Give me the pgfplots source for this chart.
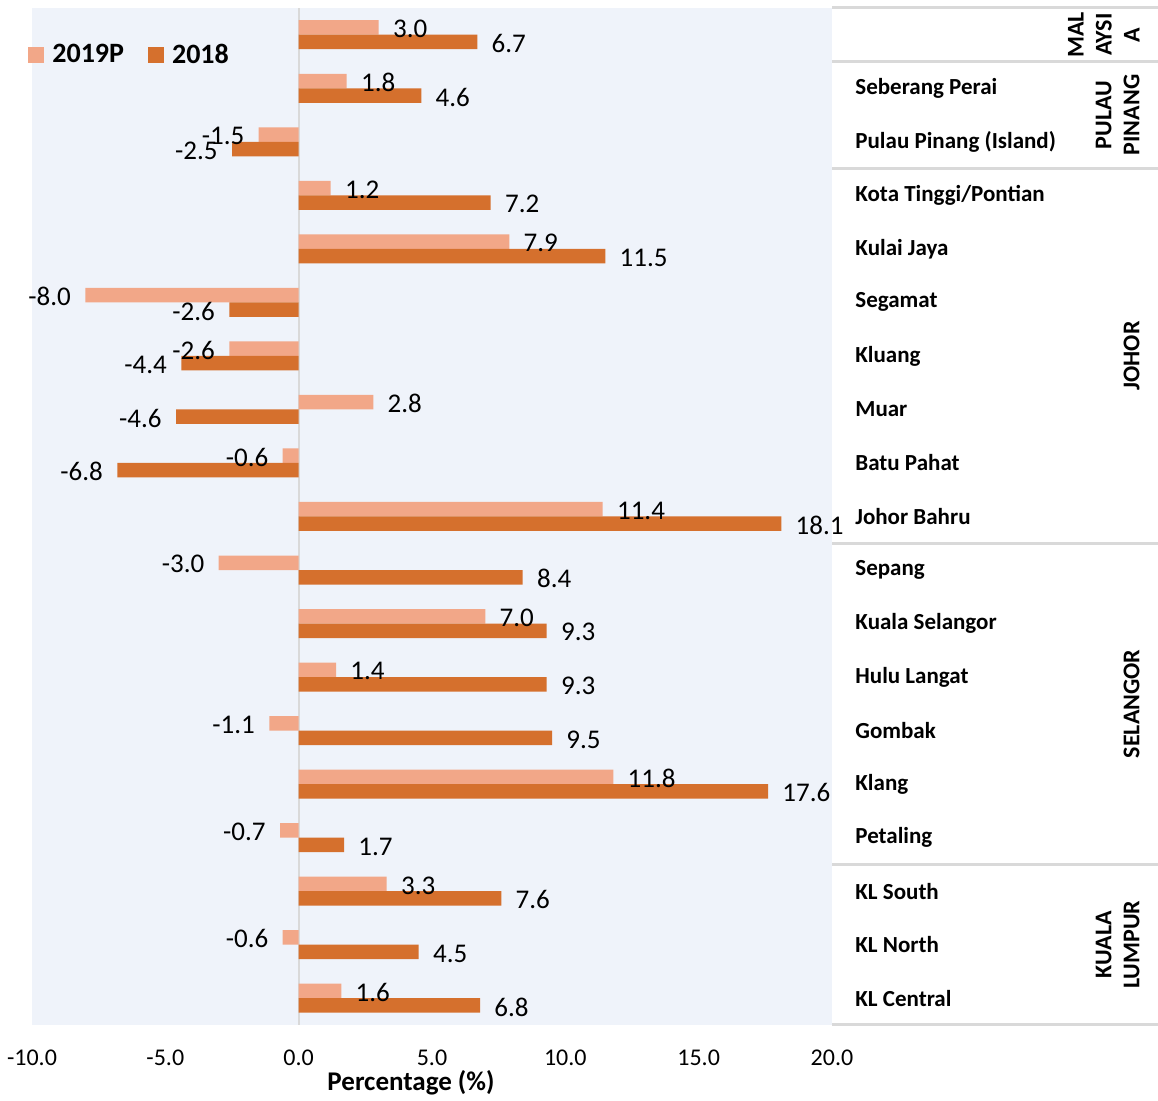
\documentclass[border=0pt]{standalone}
\usepackage{pgfplots}
\pgfplotsset{compat=1.18}
\usepackage{fontspec}
\setmainfont{Carlito}
\definecolor{bg}{RGB}{239,243,250}
\definecolor{c19}{RGB}{242,167,136}
\definecolor{c18}{RGB}{213,112,45}
\definecolor{sep}{RGB}{217,217,217}
\pgfplotsset{
  sqlegend/.style={legend image code/.code={\fill[##1] (0pt,-4pt) rectangle (8pt,4pt);}},
  barlabels/.style={
    nodes near coords={\pgfmathprintnumber[fixed,fixed zerofill,precision=1,assume math mode=true]{\pgfplotspointmeta}},
    nodes near coords align={horizontal},
    every node near coord/.append style={font=\fontsize{13.5}{13.5}\selectfont, text=black, inner xsep=7pt, inner ysep=0pt, yshift=#1},
  },
}
\begin{document}
\begin{tikzpicture}
\path[use as bounding box] (0,0) rectangle (579pt,550.5pt);
\begin{axis}[
  at={(16pt,38pt)}, anchor=south west,
  scale only axis, width=400pt, height=508.5pt,
  xmin=-10, xmax=20, ymin=-0.5, ymax=18.5,
  axis line style={draw=none},
  major tick length=0pt,
  axis background/.style={fill=bg},
  clip=false,
  xtick={-10,-5,...,20},
  xticklabel style={/pgf/number format/.cd, fixed, fixed zerofill, precision=1, assume math mode=true, /tikz/.cd,
    font=\fontsize{12}{12}\selectfont, anchor=center, yshift=-16.5pt},
  ytick={0,...,18},
  yticklabels={KL Central, KL North, KL South, Petaling, Klang, Gombak, Hulu Langat, Kuala Selangor, Sepang, Johor Bahru, Batu Pahat, Muar, Kluang, Segamat, Kulai Jaya, Kota Tinggi/Pontian, Pulau Pinang (Island), Seberang Perai, {}},
  yticklabel pos=right,
  yticklabel style={anchor=west, inner sep=0pt, xshift=11.5pt, font=\bfseries\fontsize{11.5}{11.5}\selectfont},
  bar width=7.25pt,
  legend style={at={(0,1)}, anchor=west, xshift=-2pt, yshift=-23.5pt, draw=none, fill=none, inner sep=0pt,
    font=\bfseries\fontsize{14}{14}\selectfont, legend columns=2,
    nodes={inner xsep=4pt},
    /tikz/every even column/.append style={column sep=8pt}},
  legend cell align=left,
]
\addplot[forget plot, draw=sep, line width=1pt] coordinates {(0,-0.5) (0,18.5)};

% 2019P
\addplot[xbar, bar shift=3.625pt, fill=c19, draw=none, sqlegend, barlabels=2.9pt] coordinates {
  (3.0,18) (1.8,17) (-1.5,16) (1.2,15) (7.9,14) (-8.0,13) (-2.6,12) (2.8,11) (-0.6,10) (11.4,9)
  (-3.0,8) (7.0,7) (1.4,6) (-1.1,5) (11.8,4) (-0.7,3) (3.3,2) (-0.6,1) (1.6,0)
};
\addlegendentry{2019P}

% 2018
\addplot[xbar, bar shift=-3.625pt, fill=c18, draw=none, sqlegend, barlabels=-4.4pt] coordinates {
  (6.7,18) (4.6,17) (-2.5,16) (7.2,15) (11.5,14) (-2.6,13) (-4.4,12) (-4.6,11) (-6.8,10) (18.1,9)
  (8.4,8) (9.3,7) (9.3,6) (9.5,5) (17.6,4) (1.7,3) (7.6,2) (4.5,1) (6.8,0)
};
\addlegendentry{2018}

% group separators on the right
\draw[sep, line width=1.5pt] (axis cs:20,18.5) -- ++(163pt,0pt);
\draw[sep, line width=1.5pt] (axis cs:20,17.5) -- ++(163pt,0pt);
\draw[sep, line width=1.5pt] (axis cs:20,15.5) -- ++(163pt,0pt);
\draw[sep, line width=1.5pt] (axis cs:20,8.5) -- ++(163pt,0pt);
\draw[sep, line width=1.5pt] (axis cs:20,2.5) -- ++(163pt,0pt);
\draw[sep, line width=1.5pt] (axis cs:20,-0.5) -- ++(163pt,0pt);
\tikzset{grp/.style={rotate=90, anchor=south, align=center, inner sep=0pt, font=\bfseries\fontsize{12}{14}\selectfont}}
\node[grp] at ([xshift=154pt]axis cs:20,18) {MAL\\AYSI\\A};
\node[grp] at ([xshift=154pt]axis cs:20,16.5) {PULAU\\PINANG};
\node[grp] at ([xshift=154pt]axis cs:20,12) {JOHOR};
\node[grp] at ([xshift=154pt]axis cs:20,5.5) {SELANGOR};
\node[grp] at ([xshift=154pt]axis cs:20,1) {KUALA\\LUMPUR};
\end{axis}
\node[font=\bfseries\fontsize{13.5}{13.5}\selectfont] at (205.5pt,9pt) {Percentage (\%)};
\end{tikzpicture}
\end{document}
